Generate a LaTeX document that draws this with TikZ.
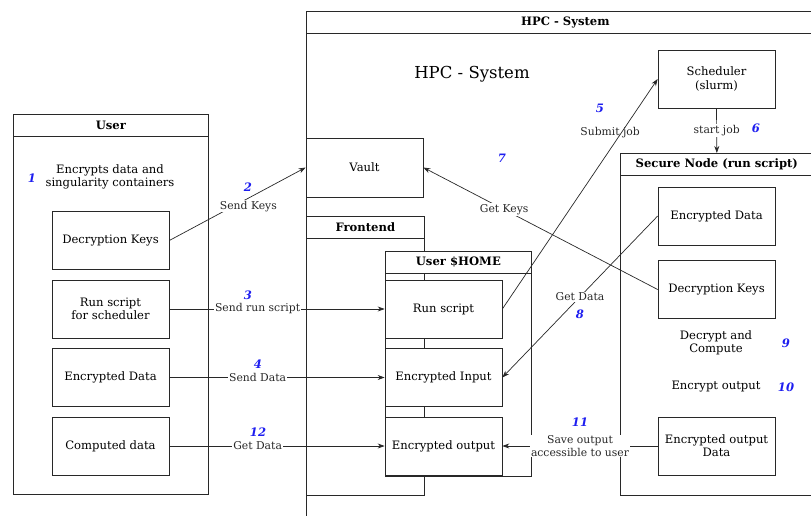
\documentclass[tikz,border=0pt]{standalone}
\usepackage{fontspec}
\setmainfont{DejaVu Serif}
\usepackage{tikz}
\usetikzlibrary{arrows.meta,positioning}
\definecolor{numblue}{RGB}{30,30,240}
\definecolor{edge}{RGB}{40,40,40}
\tikzstyle{block} = [draw=edge, fill=white, minimum width=117pt, minimum height=58pt,
    align=center, inner sep=1pt, font=\fontsize{11.6}{13.2}\selectfont]
\tikzstyle{frame} = [draw=edge, anchor=north west, inner sep=0pt]
\tikzstyle{head} = [draw=edge, fill=white, anchor=north west, minimum height=22pt,
    inner sep=0pt, font=\bfseries\fontsize{11.6}{13}\selectfont]
\tikzstyle{num} = [text=numblue, font=\bfseries\itshape\fontsize{11.6}{13}\selectfont]
\tikzstyle{lbl} = [fill=white, inner sep=1pt, align=center, font=\fontsize{10.8}{12.8}\selectfont]
\tikzstyle{flow} = [-{Stealth[length=7pt,width=5pt]}, edge, line width=0.7pt]

\begin{document}
\begin{tikzpicture}[x=1pt, y=-1pt, line width=0.7pt]
  \useasboundingbox (0,0) rectangle (811,516);
  % Place frames
  \node [frame, minimum width=195pt, minimum height=380pt] (user) at (13,114) {};
  \node [head, minimum width=195pt] (userhd) at (user.north west) {User};
  \node [frame, minimum width=520pt, minimum height=520pt] (hpc) at (306,11) {};
  \node [head, minimum width=518pt] (hpchd) at (hpc.north west) {HPC - System};
  \node [frame, minimum width=118pt, minimum height=279pt] (front) at (306,216) {};
  \node [head, minimum width=118pt] (fronthd) at (front.north west) {Frontend};
  \node [frame, minimum width=146pt, minimum height=225pt] (home) at (385,251) {};
  \node [head, minimum width=146pt] (homehd) at (home.north west) {User \$HOME};
  \node [frame, minimum width=193pt, minimum height=342pt] (secure) at (620,153) {};
  \node [head, minimum width=193pt] (securehd) at (secure.north west) {Secure Node (run script)};

  % Place nodes
  \node [block] (u1) at (110.5,240.5) {Decryption Keys};
  \node [block] (u2) at (110.5,309) {Run script\\for scheduler};
  \node [block] (u3) at (110.5,377.5) {Encrypted Data};
  \node [block] (u4) at (110.5,446) {Computed data};
  \node [block, minimum height=59pt] (vault) at (364.5,167.5) {Vault};
  \node [block] (h1) at (443.5,309) {Run script};
  \node [block] (h2) at (443.5,377.5) {Encrypted Input};
  \node [block] (h3) at (443.5,446) {Encrypted output};
  \node [block] (sched) at (716.5,79) {Scheduler\\(slurm)};
  \node [block] (s1) at (716.5,216) {Encrypted Data};
  \node [block] (s2) at (716.5,289.5) {Decryption Keys};
  \node [block] (s3) at (716.5,446) {Encrypted output\\Data};

  % Free texts
  \node [align=center, font=\fontsize{11.6}{13.2}\selectfont] (enc) at (110,177) {Encrypts data and\\singularity containers};
  \node [font=\fontsize{16.5}{18}\selectfont] (title) at (472,74) {HPC - System};
  \node [align=center, font=\fontsize{11.6}{13.2}\selectfont] (dec) at (716,343) {Decrypt and\\Compute};
  \node [font=\fontsize{11.6}{13.2}\selectfont] (encout) at (716,387) {Encrypt output};

  % Connectors
  \draw [flow] (u1.east) -- node [lbl, pos=0.58, yshift=-8pt] {Send Keys} (vault.west);
  \draw [flow] (u2.east) -- node [lbl, pos=0.41] {Send run script} (h1.west);
  \draw [flow] (u3.east) -- node [lbl, pos=0.41] {Send Data} (h2.west);
  \draw [flow] (u4.east) -- node [lbl, pos=0.41] {Get Data} (h3.west);
  \draw [flow] (h1.east) -- node [lbl, fill=none, pos=0.765, xshift=-11pt] {Submit job} (sched.west);
  \draw [flow] (sched.south) -- node [lbl] {start job} (secure.north);
  \draw [flow] (s2.west) -- node [lbl, pos=0.655] {Get Keys} (vault.east);
  \draw [flow] (s1.west) -- node [lbl, pos=0.5] {Get Data} (h2.east);
  \draw [flow] (s3.west) -- node [lbl, pos=0.5] {Save output\\accessible to user} (h3.east);

  % Step numbers
  \node [num] (n1) at (32,178) {1};
  \node [num] (n2) at (248,187) {2};
  \node [num] (n3) at (248,295) {3};
  \node [num] (n4) at (258,364) {4};
  \node [num] (n5) at (600,108) {5};
  \node [num] (n6) at (756,128) {6};
  \node [num] (n7) at (502,158) {7};
  \node [num] (n8) at (580,314) {8};
  \node [num] (n9) at (786,343) {9};
  \node [num] (n10) at (786,387) {10};
  \node [num] (n11) at (580,422) {11};
  \node [num] (n12) at (258,432) {12};
\end{tikzpicture}
\end{document}
